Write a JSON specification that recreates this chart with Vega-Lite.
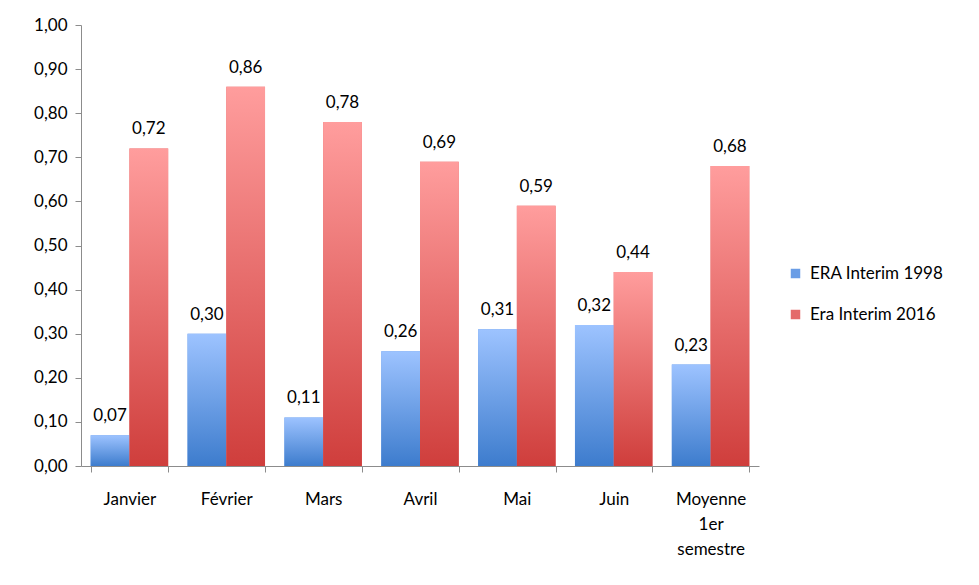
{
  "$schema": "https://vega.github.io/schema/vega-lite/v6.json",
  "width": 678,
  "height": 441,
  "autosize": {"type": "none"},
  "padding": {"left": 81, "top": 25, "right": 220, "bottom": 119},
  "background": "white",
  "config": {
    "locale": {"number": {"decimal": ",", "thousands": " ", "grouping": [3], "currency": ["", " €"]}},
    "font": "Lato",
    "view": {"stroke": null},
    "axis": {"domainColor": "#8c8c8c", "tickColor": "#8c8c8c", "labelColor": "#000000", "labelFont": "Lato", "labelFontSize": 17, "grid": false, "title": null}
  },
  "data": {
    "values": [
      {"mois": "Janvier", "serie": "ERA Interim 1998", "valeur": 0.07},
      {"mois": "Janvier", "serie": "Era Interim 2016", "valeur": 0.72},
      {"mois": "Février", "serie": "ERA Interim 1998", "valeur": 0.30},
      {"mois": "Février", "serie": "Era Interim 2016", "valeur": 0.86},
      {"mois": "Mars", "serie": "ERA Interim 1998", "valeur": 0.11},
      {"mois": "Mars", "serie": "Era Interim 2016", "valeur": 0.78},
      {"mois": "Avril", "serie": "ERA Interim 1998", "valeur": 0.26},
      {"mois": "Avril", "serie": "Era Interim 2016", "valeur": 0.69},
      {"mois": "Mai", "serie": "ERA Interim 1998", "valeur": 0.31},
      {"mois": "Mai", "serie": "Era Interim 2016", "valeur": 0.59},
      {"mois": "Juin", "serie": "ERA Interim 1998", "valeur": 0.32},
      {"mois": "Juin", "serie": "Era Interim 2016", "valeur": 0.44},
      {"mois": "Moyenne 1er semestre", "serie": "ERA Interim 1998", "valeur": 0.23},
      {"mois": "Moyenne 1er semestre", "serie": "Era Interim 2016", "valeur": 0.68}
    ]
  },
  "encoding": {
    "x": {
      "field": "mois",
      "type": "nominal",
      "sort": ["Janvier", "Février", "Mars", "Avril", "Mai", "Juin", "Moyenne 1er semestre"],
      "scale": {"paddingInner": 0.2, "paddingOuter": 0.1},
      "axis": {
        "labelAngle": 0,
        "tickBand": "extent",
        "tickSize": 6,
        "labelPadding": 19,
        "labelLineHeight": 25,
        "labelBaseline": "top",
        "labelExpr": "datum.value == 'Moyenne 1er semestre' ? ['Moyenne', '1er', 'semestre'] : datum.value"
      }
    },
    "xOffset": {
      "field": "serie",
      "type": "nominal",
      "scale": {"domain": ["ERA Interim 1998", "Era Interim 2016"]}
    },
    "y": {
      "field": "valeur",
      "type": "quantitative",
      "scale": {"domain": [0, 1], "nice": false},
      "axis": {"values": [0, 0.1, 0.2, 0.3, 0.4, 0.5, 0.6, 0.7, 0.8, 0.9, 1.0], "format": ".2f", "tickSize": 6, "labelPadding": 8}
    }
  },
  "layer": [
    {
      "mark": {"type": "bar"},
      "encoding": {
        "color": {
          "field": "serie",
          "type": "nominal",
          "scale": {"domain": ["ERA Interim 1998", "Era Interim 2016"], "range": ["#6a9de6", "#e46a6a"]},
          "legend": {
            "title": null,
            "orient": "none",
            "legendX": 706,
            "legendY": 240,
            "symbolType": "square",
            "symbolSize": 90,
            "symbolStrokeWidth": 0,
            "labelFontSize": 17,
            "labelFont": "Lato",
            "labelColor": "#000000",
            "rowPadding": 23,
            "labelOffset": 6
          }
        }
      }
    },
    {
      "mark": {"type": "bar"},
      "encoding": {
        "fill": {
          "condition": {
            "test": "datum.serie === 'ERA Interim 1998'",
            "value": {"gradient": "linear", "x1": 0, "y1": 0, "x2": 0, "y2": 1, "stops": [{"offset": 0, "color": "#9dc3ff"}, {"offset": 1, "color": "#3d7ccd"}]}
          },
          "value": {"gradient": "linear", "x1": 0, "y1": 0, "x2": 0, "y2": 1, "stops": [{"offset": 0, "color": "#ff9d9d"}, {"offset": 1, "color": "#cf3e3c"}]}
        }
      }
    },
    {
      "mark": {"type": "text", "baseline": "bottom", "dy": -10, "fontSize": 17, "font": "Lato", "color": "#000000"},
      "encoding": {
        "text": {"field": "valeur", "type": "quantitative", "format": ".2f"}
      }
    }
  ]
}
